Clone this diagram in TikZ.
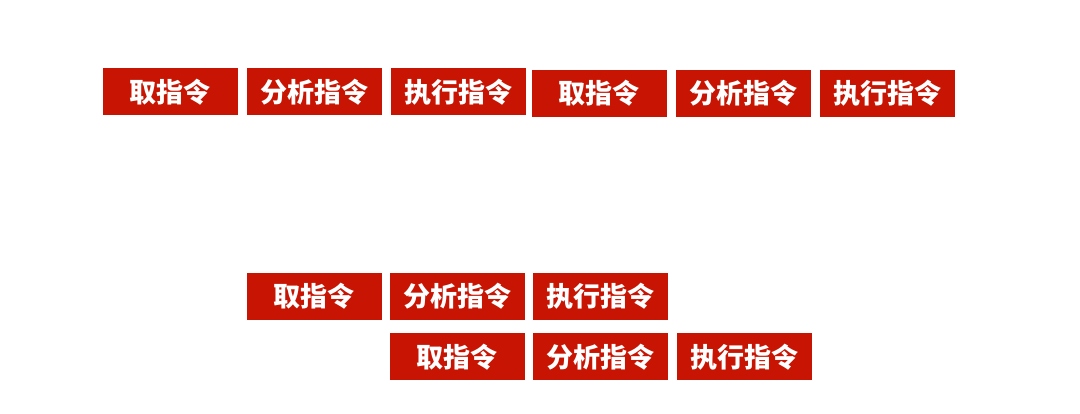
\documentclass[tikz,border=0pt]{standalone}
\usepackage{fontspec}
\newfontfamily\cjk{Noto Sans CJK SC}
\usetikzlibrary{positioning}
\definecolor{instrred}{RGB}{200,20,2}

\begin{document}
\begin{tikzpicture}[
  x=1pt, y=-1pt,
  node distance=9pt,
  instr/.style={fill=instrred, text=white, minimum width=135pt,
                minimum height=47pt, inner sep=0pt,
                font=\cjk\bfseries\fontsize{27}{27}\selectfont}]
\useasboundingbox (0,0) rectangle (1080,414);
% sequential execution
\node[instr] (fetchA) at (170,92) {取指令};
\node[instr, right=of fetchA] (decodeA) {分析指令};
\node[instr, right=of decodeA] (execA) {执行指令};
\node[instr] (fetchB) at (599,93.5) {取指令};
\node[instr, right=of fetchB] (decodeB) {分析指令};
\node[instr, right=of decodeB] (execB) {执行指令};
% overlapped execution
\node[instr] (fetchC) at (314,296.5) {取指令};
\node[instr, right=8pt of fetchC] (decodeC) {分析指令};
\node[instr, right=8pt of decodeC] (execC) {执行指令};
\node[instr, below=13pt of decodeC] (fetchD) {取指令};
\node[instr, right=8pt of fetchD] (decodeD) {分析指令};
\node[instr, right=8pt of decodeD] (execD) {执行指令};
\end{tikzpicture}
\end{document}
